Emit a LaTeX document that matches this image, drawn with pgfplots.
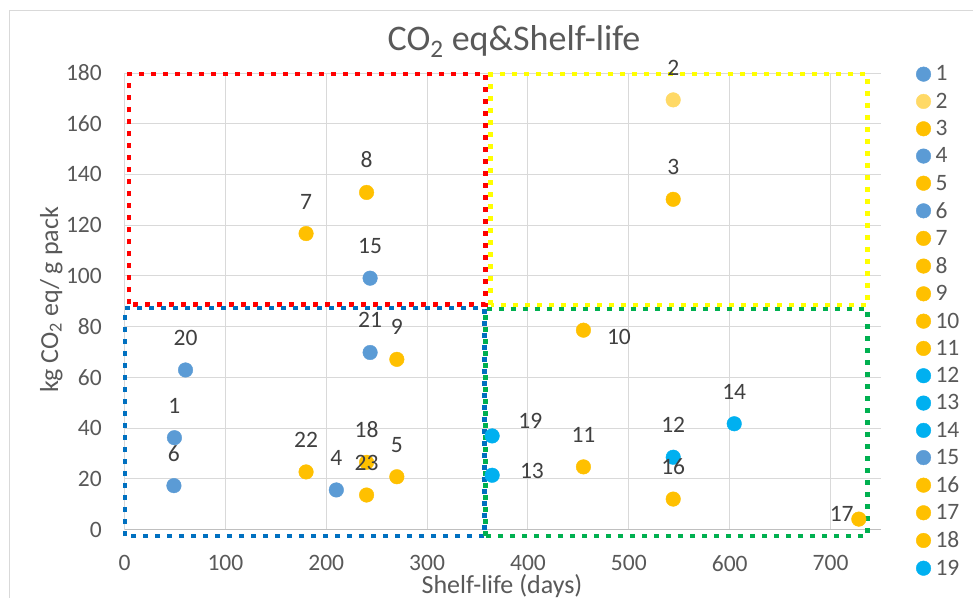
\documentclass[border=0pt]{standalone}
\usepackage{pgfplots}
\pgfplotsset{compat=1.18}
\usepackage{fontspec}
\setmainfont{Carlito}

\definecolor{cblue}{HTML}{5B9BD5}
\definecolor{clight}{HTML}{FFD966}
\definecolor{corange}{HTML}{FFC000}
\definecolor{ccyan}{HTML}{00B0F0}
\definecolor{gridgray}{HTML}{D9D9D9}
\definecolor{axisgray}{HTML}{BFBFBF}
\definecolor{txtgray}{HTML}{595959}
\definecolor{lblgray}{HTML}{404040}
\definecolor{bxred}{HTML}{FF0000}
\definecolor{bxyellow}{HTML}{FFFF00}
\definecolor{bxblue}{HTML}{0070C0}
\definecolor{bxgreen}{HTML}{00B050}

\newcommand{\smallfont}{\fontsize{23.5}{28}\selectfont}

\pgfplotsset{
  pt/.style={only marks, mark=*, mark size=7.3pt, color=#1, mark options={draw=none}},
  lbl/.style n args={4}{nodes near coords={#1},
    every node near coord/.append style={font=\smallfont, text=lblgray,
      inner sep=0pt, anchor=#2, xshift=#3, yshift=#4}},
  lab/.style={lbl={#1}{base}{0pt}{24.5pt}},
}

\begin{document}
\begin{tikzpicture}[x=1pt,y=1pt]
\useasboundingbox (0,0) rectangle (973,-597);
\draw[gridgray, line width=1pt] (9.5,-10.5) rectangle (1000,-640);
\begin{axis}[
  at={(124.5pt,-529.5pt)}, anchor=south west,
  scale only axis, width=756.5pt, height=456.5pt,
  xmin=0, xmax=750, ymin=0, ymax=180,
  xtick={0,100,...,700}, ytick={0,20,...,180},
  grid=major, major grid style={gridgray, line width=1pt},
  axis x line*=bottom, axis y line*=left,
  x axis line style={axisgray, line width=1pt},
  y axis line style={gridgray, line width=1pt},
  major tick length=0pt,
  /pgf/number format/assume math mode=true,
  tick label style={font=\smallfont, text=txtgray, inner sep=0pt},
  xticklabel style={anchor=north, yshift=-25.5pt},
  yticklabel style={anchor=east, xshift=-22.5pt},
  clip=false,
  legend style={draw=none, fill=none, inner sep=0pt, outer sep=0pt,
    at={(axis description cs:1.0463,1.0157)}, anchor=north west,
    font=\smallfont, text=txtgray, row sep=10.6pt, column sep=4.5pt,
    nodes={inner sep=0pt}},
  legend cell align=left,
  legend image code/.code={\fill[#1] (0pt,0pt) circle (7.3pt);},
]
% quadrant boxes
\draw[bxred, line width=4.5pt, dash pattern=on 5pt off 7pt]
  (axis cs:4.5,88.8) rectangle (axis cs:357.7,179.6);
\draw[bxyellow, line width=4.5pt, dash pattern=on 5pt off 7pt]
  (axis cs:363,88.6) rectangle (axis cs:736.5,179.6);
\draw[bxblue, line width=4.5pt, dash pattern=on 5pt off 7pt]
  (axis cs:0.5,-2.6) rectangle (axis cs:357,87.3);
\draw[bxgreen, line width=4.5pt, dash pattern=on 5pt off 7pt]
  (axis cs:358,-2.5) rectangle (axis cs:736.5,87);

\addplot[pt=cblue, lab=1]   coordinates {(49.5,36.2)};  \addlegendentry{1}
\addplot[pt=clight, lab=2]  coordinates {(544,169.4)};  \addlegendentry{2}
\addplot[pt=corange, lab=3] coordinates {(544,130.2)};  \addlegendentry{3}
\addplot[pt=cblue, lab=4]   coordinates {(210,15.6)};   \addlegendentry{4}
\addplot[pt=corange, lab=5] coordinates {(270,20.8)};   \addlegendentry{5}
\addplot[pt=cblue, lab=6]   coordinates {(49,17.3)};    \addlegendentry{6}
\addplot[pt=corange, lab=7] coordinates {(180,116.7)};  \addlegendentry{7}
\addplot[pt=corange, lab=8] coordinates {(240,132.9)};  \addlegendentry{8}
\addplot[pt=corange, lab=9] coordinates {(270,67.1)};   \addlegendentry{9}
\addplot[pt=corange, lbl={10}{base west}{23.4pt}{-14pt}] coordinates {(455,78.6)}; \addlegendentry{10}
\addplot[pt=corange, lab=11] coordinates {(455,24.7)};  \addlegendentry{11}
\addplot[pt=ccyan, lab=12]   coordinates {(544,28.5)};  \addlegendentry{12}
\addplot[pt=ccyan, lbl={13}{base west}{27.7pt}{-3pt}] coordinates {(364.5,21.4)}; \addlegendentry{13}
\addplot[pt=ccyan, lab=14]   coordinates {(604.5,41.7)}; \addlegendentry{14}
\addplot[pt=cblue, lab=15]   coordinates {(243.5,99.1)}; \addlegendentry{15}
\addplot[pt=corange, lab=16] coordinates {(544,12.0)};   \addlegendentry{16}
\addplot[pt=corange, lbl={17}{base east}{-5pt}{-2pt}] coordinates {(728,4.1)}; \addlegendentry{17}
\addplot[pt=corange, lab=18] coordinates {(240,26.5)};   \addlegendentry{18}
\addplot[pt=ccyan, lbl={19}{base west}{26pt}{7.7pt}] coordinates {(364.5,36.9)}; \addlegendentry{19}
\addplot[pt=cblue, lab=20, forget plot]   coordinates {(60.5,62.9)};
\addplot[pt=cblue, lab=21, forget plot]   coordinates {(243.5,69.8)};
\addplot[pt=corange, lab=22, forget plot] coordinates {(180,22.7)};
\addplot[pt=corange, lab=23, forget plot] coordinates {(240,13.6)};
\end{axis}
\node[font=\fontsize{36}{40}\selectfont, text=txtgray, anchor=base] at (514,-50) {CO\textsubscript{2} eq\&Shelf-life};
\node[font=\fontsize{26}{30}\selectfont, text=txtgray, anchor=base] at (502,-593) {Shelf-life (days)};
\node[font=\fontsize{26}{30}\selectfont, text=txtgray, anchor=base, rotate=90] at (58,-300) {kg CO\textsubscript{2} eq/ g pack};
\end{tikzpicture}
\end{document}
